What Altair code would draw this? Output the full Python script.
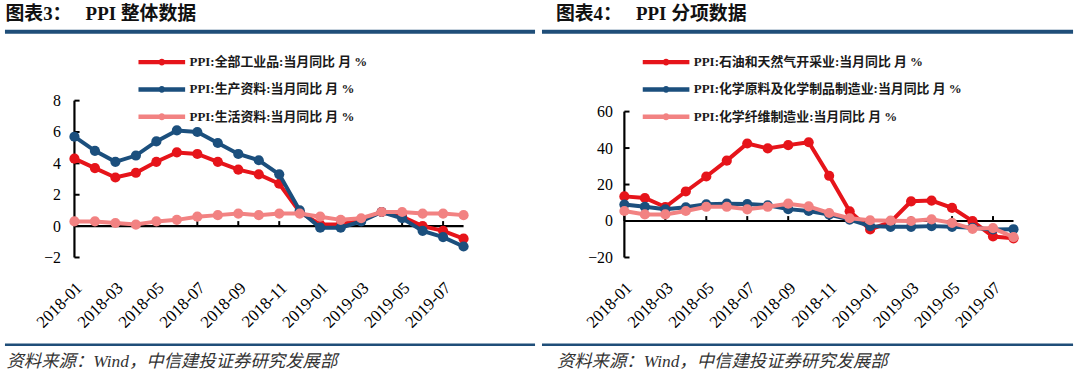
import altair as alt
import pandas as pd

months = ["2018-01", "2018-02", "2018-03", "2018-04", "2018-05", "2018-06",
          "2018-07", "2018-08", "2018-09", "2018-10", "2018-11", "2018-12",
          "2019-01", "2019-02", "2019-03", "2019-04", "2019-05", "2019-06",
          "2019-07", "2019-08"]

# Left panel: PPI overall
left_names = ["PPI:全部工业品:当月同比 月 %",
              "PPI:生产资料:当月同比 月 %",
              "PPI:生活资料:当月同比 月 %"]
ppi_all = [4.3, 3.7, 3.1, 3.4, 4.1, 4.7, 4.6, 4.1, 3.6, 3.3, 2.7, 0.9,
           0.1, 0.1, 0.4, 0.9, 0.6, 0.0, -0.3, -0.8]
ppi_prod = [5.7, 4.8, 4.1, 4.5, 5.4, 6.1, 6.0, 5.3, 4.6, 4.2, 3.3, 1.0,
            -0.1, -0.1, 0.3, 0.9, 0.5, -0.3, -0.7, -1.3]
ppi_cons = [0.3, 0.3, 0.2, 0.1, 0.3, 0.4, 0.6, 0.7, 0.8, 0.7, 0.8, 0.8,
            0.6, 0.4, 0.5, 0.9, 0.9, 0.8, 0.8, 0.7]
left_yticks = [-2, 0, 2, 4, 6, 8]

# Right panel: PPI by sector
right_names = ["PPI:石油和天然气开采业:当月同比 月 %",
               "PPI:化学原料及化学制品制造业:当月同比 月 %",
               "PPI:化学纤维制造业:当月同比 月 %"]
oil = [13.5, 12.6, 7.7, 16.2, 24.4, 33.1, 42.5, 39.8, 41.6, 43.2, 24.8, 5.3,
       -4.6, -0.5, 10.8, 11.2, 7.2, -0.1, -8.5, -9.5]
chem = [9.0, 7.8, 6.4, 7.5, 9.2, 9.5, 9.3, 8.6, 6.5, 5.5, 3.5, 0.8,
        -2.8, -3.2, -3.2, -2.8, -3.2, -3.7, -4.6, -4.5]
fiber = [5.5, 3.6, 3.6, 5.5, 7.8, 7.8, 6.4, 7.8, 9.5, 8.0, 4.4, 1.5,
         0.4, 0.2, 0.0, 0.9, -1.0, -4.3, -3.9, -8.8]
right_yticks = [-20, 0, 20, 40, 60]

colors = ["#E6141A", "#1B4F7D", "#F28282"]
NAVY = "#1F4E79"
FONT = "Liberation Serif, Noto Sans CJK SC"
AXIS_FONT = "Liberation Serif"
LEGEND_PATH = ("M-2.35,0H2.35M-0.12,0A0.12,0.12,0,1,0,0.12,0"
               "A0.12,0.12,0,1,0,-0.12,0")
label_expr = "[" + ",".join("'%s'" % m for m in months) + "][datum.value]"
source_text = "资料来源：Wind，中信建投证券研究发展部"


def build_panel(names, series, ydomain, yticks, xtick_len, title, legend_x,
                ylab_pad, title_x, rule_x0, rule_x1):
    rows = []
    for name, vals in zip(names, series):
        for i, v in enumerate(vals):
            rows.append({"i": i, "month": months[i], "series": name, "value": v})
    df = pd.DataFrame(rows)

    xscale = alt.Scale(domain=[0, len(months) - 1], nice=False, zero=False)
    yscale = alt.Scale(domain=ydomain, nice=False, zero=False)
    cscale = alt.Scale(domain=names, range=colors)
    xaxis = alt.Axis(values=list(range(0, len(months), 2)), labelExpr=label_expr,
                     labelAngle=-45, domain=False, ticks=False, grid=False,
                     labelFont=AXIS_FONT, labelFontSize=17, labelColor="#000",
                     labelPadding=22, labelOffset=-1, labelOverlap=False,
                     labelFlush=False, title=None)
    yaxis = alt.Axis(values=yticks, domain=False, ticks=False, grid=False,
                     labelFont=AXIS_FONT, labelFontSize=16, labelColor="#000",
                     labelPadding=ylab_pad, labelOverlap=False, labelFlush=False,
                     title=None)
    legend = alt.Legend(title=None, orient="none", legendX=legend_x, legendY=-51.3,
                        symbolType=LEGEND_PATH, symbolSize=400, symbolStrokeWidth=4.5,
                        labelFont=FONT, labelFontSize=13, labelFontWeight="bold",
                        labelColor="#1a1a1a", labelOffset=15.5, rowPadding=4.5,
                        padding=0, direction="vertical", labelLimit=500)

    X = lambda f: alt.X(f, type="quantitative", scale=xscale, axis=xaxis)
    Y = lambda f: alt.Y(f, type="quantitative", scale=yscale, axis=yaxis)

    layers = []
    # axis lines (y axis at first month, x axis at zero)
    yline = pd.DataFrame({"x": [0], "y": [yticks[0]], "y2": [yticks[-1]]})
    layers.append(alt.Chart(yline).mark_rule(color="#000", strokeWidth=2.2)
                  .encode(x=X("x"), y=Y("y"), y2="y2"))
    xline = pd.DataFrame({"x": [0], "x2": [len(months) - 1], "y": [0]})
    layers.append(alt.Chart(xline).mark_rule(color="#000", strokeWidth=2.2)
                  .encode(x=X("x"), x2="x2", y=Y("y")))
    # x ticks pointing up from the zero line
    xt = pd.DataFrame({"x": list(range(0, len(months), 2))})
    xt["y"] = 0
    xt["y2"] = xtick_len
    layers.append(alt.Chart(xt).mark_rule(color="#000", strokeWidth=2)
                  .encode(x=X("x"), y=Y("y"), y2="y2"))
    # y ticks pointing inward
    yt = pd.DataFrame({"y": yticks})
    yt["x"] = 0
    yt["x2"] = 0.25
    layers.append(alt.Chart(yt).mark_rule(color="#000", strokeWidth=2)
                  .encode(x=X("x"), x2="x2", y=Y("y")))

    for k, name in enumerate(names):
        sdf = df[df["series"] == name]
        layers.append(alt.Chart(sdf).mark_line(strokeWidth=4)
                      .encode(x=X("i"), y=Y("value"),
                              color=alt.Color("series:N", scale=cscale, legend=legend)))
        layers.append(alt.Chart(sdf).mark_circle(size=105, opacity=1, color=colors[k])
                      .encode(x=X("i"), y=Y("value")))

    one = pd.DataFrame({"t": [title], "s": [source_text]})
    layers.append(alt.Chart(one).mark_text(align="left", baseline="top", font=FONT,
                                           fontSize=19, fontWeight="bold", color="#111")
                  .encode(x=alt.value(title_x), y=alt.value(-96), text="t:N"))
    layers.append(alt.Chart(one).mark_rule(color=NAVY, strokeWidth=4)
                  .encode(x=alt.value(rule_x0), x2=alt.value(rule_x1), y=alt.value(-69.5)))
    layers.append(alt.Chart(one).mark_rule(color=NAVY, strokeWidth=2.5)
                  .encode(x=alt.value(rule_x0), x2=alt.value(rule_x1), y=alt.value(246)))
    layers.append(alt.Chart(one).mark_text(align="left", baseline="middle", font=FONT,
                                           fontSize=17.5, fontStyle="italic", color="#333")
                  .encode(x=alt.value(title_x + 1), y=alt.value(263), text="s:N"))

    return alt.layer(*layers).properties(width=392, height=158)


left = build_panel(left_names, [ppi_all, ppi_prod, ppi_cons], [-2, 8], left_yticks,
                   0.32, "图表3：\u00a0\u00a0\u00a0PPI 整体数据", 75.5, 14, -69.5, -70, 464)
right = build_panel(right_names, [oil, chem, fiber], [-20, 66], right_yticks,
                    2.7, "图表4：\u00a0\u00a0\u00a0PPI 分项数据", 29.5, 12, -69, -83, 452)

chart = (alt.hconcat(left, right, spacing=3)
         .resolve_scale(color="independent")
         .properties(padding={"left": 3, "top": 4, "right": 5, "bottom": 3},
                     background="white")
         .configure_view(stroke=None))

chart.save("out.html", embed_options={"renderer": "svg", "actions": False})
